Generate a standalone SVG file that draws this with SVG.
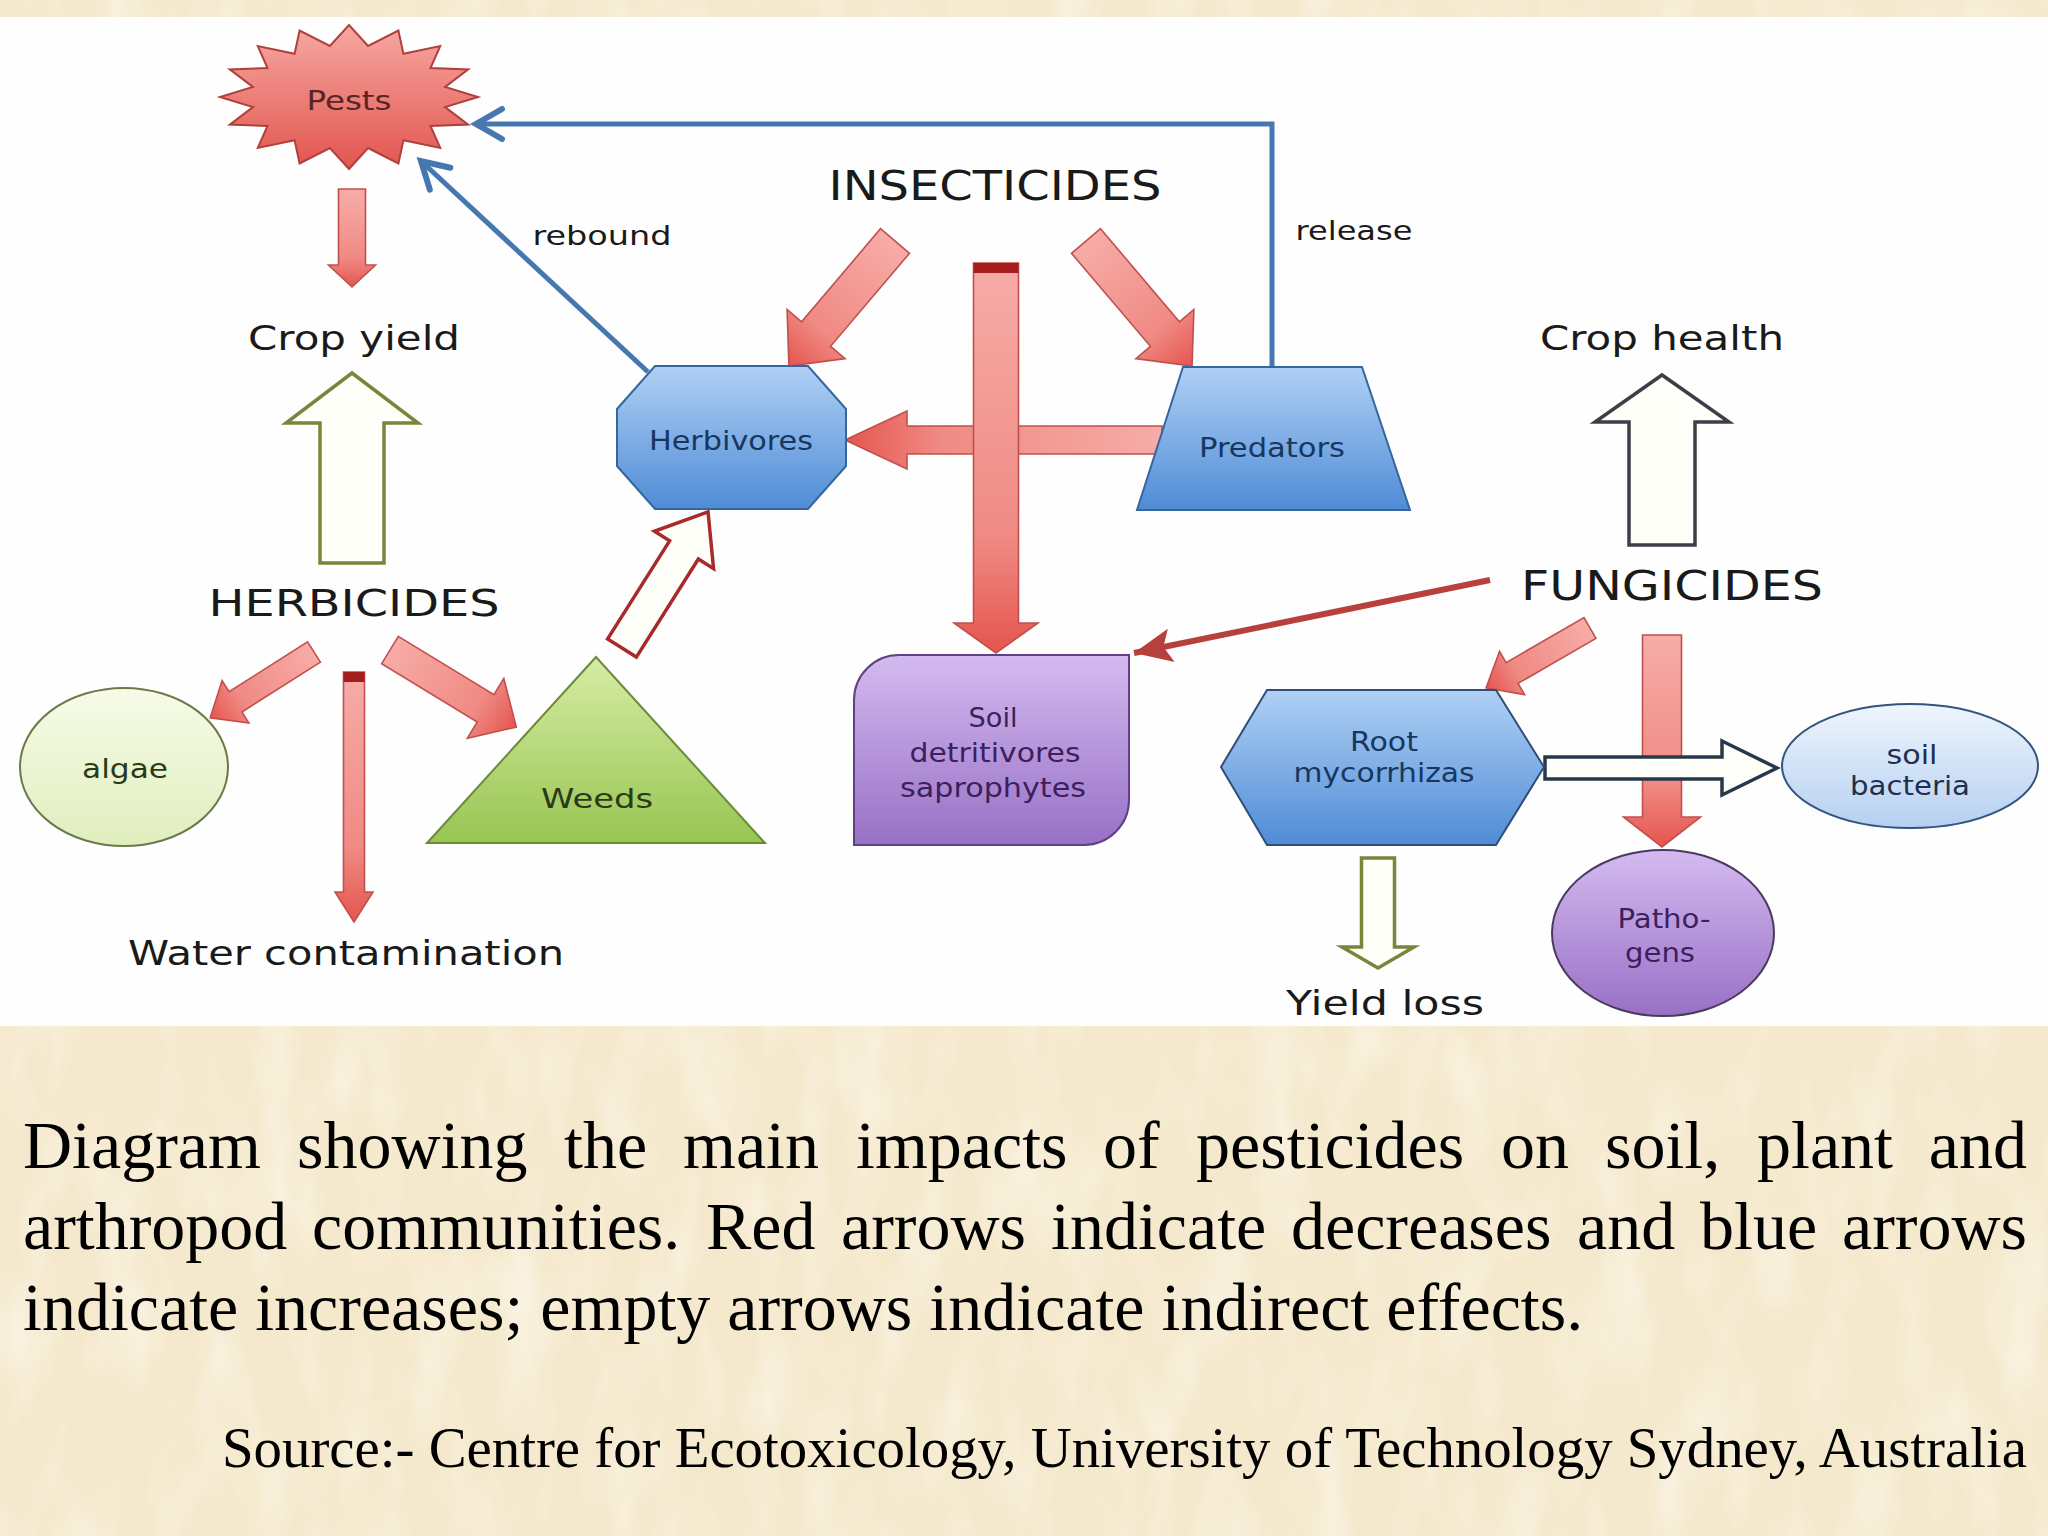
<svg xmlns="http://www.w3.org/2000/svg" width="2048" height="1536" viewBox="0 0 2048 1536">
<defs>
<style>
.lbl{font-family:"DejaVu Sans","Liberation Sans",sans-serif;text-anchor:middle;fill:#1a1a1a}
.big{font-size:34px}
.caps{font-size:40px}
.small{font-size:27px}
.node{font-size:26px}
.cap{font-family:"Liberation Serif","Times New Roman",serif;font-size:68px;fill:#000}
.red{fill:url(#gRed);stroke:#c0504d;stroke-width:1.6}
.hollow{fill:#fffffa;stroke-width:3.5;stroke-linejoin:miter}
.blue{fill:none;stroke:#4677ae;stroke-width:5}
</style>
<filter id="tex" x="0" y="0" width="100%" height="100%">
<feTurbulence type="fractalNoise" baseFrequency="0.02 0.008" numOctaves="3" seed="5"/>
<feColorMatrix type="matrix" values="0 0 0 0 1  0 0 0 0 0.985  0 0 0 0 0.94  0 0 0 1.0 -0.45"/>
</filter>
<linearGradient id="gRed" x1="0" y1="0" x2="1" y2="0">
<stop offset="0" stop-color="#f7aca7"/><stop offset="0.7" stop-color="#f08a84"/><stop offset="1" stop-color="#e5554f"/>
</linearGradient>
<linearGradient id="gStar" x1="0" y1="0" x2="0" y2="1">
<stop offset="0" stop-color="#f7a8a2"/><stop offset="1" stop-color="#e2554f"/>
</linearGradient>
<linearGradient id="gBlue" x1="0" y1="0" x2="0" y2="1">
<stop offset="0" stop-color="#b0d0f5"/><stop offset="1" stop-color="#4f8cd6"/>
</linearGradient>
<linearGradient id="gPurple" x1="0" y1="0" x2="0" y2="1">
<stop offset="0" stop-color="#d4baf0"/><stop offset="1" stop-color="#9870c6"/>
</linearGradient>
<linearGradient id="gGreen" x1="0" y1="0" x2="0" y2="1">
<stop offset="0" stop-color="#d6eca4"/><stop offset="1" stop-color="#98c552"/>
</linearGradient>
<linearGradient id="gAlgae" x1="0" y1="0" x2="0" y2="1">
<stop offset="0" stop-color="#f7fbe8"/><stop offset="1" stop-color="#e0eebd"/>
</linearGradient>
<linearGradient id="gBact" x1="0" y1="0" x2="0" y2="1">
<stop offset="0" stop-color="#eef5fd"/><stop offset="1" stop-color="#b6d0f2"/>
</linearGradient>
<marker id="vHead" markerUnits="userSpaceOnUse" markerWidth="40" markerHeight="40" viewBox="0 0 40 40" refX="32" refY="20" orient="auto">
<path d="M6,5 L32,20 L6,35" fill="none" stroke="#4677ae" stroke-width="6" stroke-linecap="round" stroke-linejoin="miter"/>
</marker>
<marker id="rHead" markerUnits="userSpaceOnUse" markerWidth="44" markerHeight="40" viewBox="0 0 44 40" refX="40" refY="20" orient="auto">
<path d="M2,3 L40,20 L2,37 L10,20 Z" fill="#b8403c"/>
</marker>
</defs>

<rect x="0" y="0" width="2048" height="1536" fill="#f5e9cd"/>
<rect x="0" y="0" width="2048" height="1536" filter="url(#tex)"/>
<rect x="0" y="17" width="2048" height="1009" fill="#fefefe"/>

<g id="connectors">
<path class="red" transform="translate(352,189) rotate(90)" d="M0,-13.5 H76 V-23.5 L98,0 L76,23.5 V13.5 H0 Z"/>
<path class="red" transform="translate(895,241) rotate(130.3)" d="M0,-19 H122 V-38 L164,0 L122,38 V19 H0 Z"/>
<path class="red" transform="translate(1086,241) rotate(49.7)" d="M0,-19 H122 V-38 L164,0 L122,38 V19 H0 Z"/>
<path class="red" transform="translate(1162,440) rotate(180)" d="M0,-14 H255 V-29 L317,0 L255,29 V14 H0 Z"/>
<g transform="translate(996,263) rotate(90)">
<path class="red" d="M0,-22.5 H360 V-42 L390,0 L360,42 V22.5 H0 Z"/>
<rect x="0" y="-22.5" width="10" height="45" fill="#a41c1c"/>
</g>
<path class="red" transform="translate(314,652) rotate(147.6)" d="M0,-12 H93 V-25 L123,0 L93,25 V12 H0 Z"/>
<g transform="translate(354,672) rotate(90)">
<path class="red" d="M0,-10.5 H220 V-19 L250,0 L220,19 V10.5 H0 Z"/>
<rect x="0" y="-10.5" width="10" height="21" fill="#a41c1c"/>
</g>
<path class="red" transform="translate(390,650) rotate(31.4)" d="M0,-16 H112 V-35 L148,0 L112,35 V16 H0 Z"/>
<path class="red" transform="translate(1590,628) rotate(150)" d="M0,-12 H90 V-25 L120,0 L90,25 V12 H0 Z"/>
<path class="red" transform="translate(1662,635) rotate(90)" d="M0,-19.5 H182 V-38.5 L212,0 L182,38.5 V19.5 H0 Z"/>
<line x1="1490" y1="580" x2="1134" y2="653" stroke="#b8403c" stroke-width="6" marker-end="url(#rHead)"/>

<polyline class="blue" points="1272,367 1272,124 476,124" marker-end="url(#vHead)"/>
<line class="blue" x1="648" y1="372" x2="421" y2="161" marker-end="url(#vHead)"/>

<path class="hollow" stroke="#76863a" transform="translate(352,563) rotate(-90)" d="M0,-32 H140 V-66 L190,0 L140,66 V32 H0 Z"/>
<path class="hollow" stroke="#a82a2a" transform="translate(622,648) rotate(-57.7)" d="M0,-17 H116 V-35 L161,0 L116,35 V17 H0 Z"/>
<path class="hollow" stroke="#76863a" transform="translate(1378,858) rotate(90)" d="M0,-16.5 H89 V-36 L110,0 L89,36 V16.5 H0 Z"/>
<path class="hollow" stroke="#27384a" transform="translate(1545,768)" d="M0,-11 H177 V-27 L232,0 L177,27 V11 H0 Z"/>
<path class="hollow" stroke="#3a3f48" transform="translate(1662,545) rotate(-90)" d="M0,-33 H123 V-67 L170,0 L123,67 V33 H0 Z"/>
</g>

<g id="pests">
<polygon fill="url(#gStar)" stroke="#b0403c" stroke-width="2" points="478,97 445.1,107.1 468.2,124.6 430.5,125.9 440.2,147.9 403.4,140.2 398.4,163.5 368.1,148 349,169 329.9,148 299.6,163.5 294.6,140.2 257.8,147.9 267.5,125.9 229.8,124.6 252.9,107.1 220,97 252.9,86.9 229.8,69.4 267.5,68.1 257.8,46.1 294.6,53.8 299.6,30.5 329.9,46 349,25 368.1,46 398.4,30.5 403.4,53.8 440.2,46.1 430.5,68.1 468.2,69.4 445.1,86.9"/>
<text class="lbl small" x="349" y="110" style="fill:#5a2424" textLength="85" lengthAdjust="spacingAndGlyphs">Pests</text>
</g>

<g id="crop-yield"><text class="lbl big" x="354" y="350" textLength="212" lengthAdjust="spacingAndGlyphs">Crop yield</text></g>
<g id="rebound-label"><text class="lbl small" x="602" y="245" textLength="139" lengthAdjust="spacingAndGlyphs">rebound</text></g>
<g id="release-label"><text class="lbl small" x="1354" y="240" textLength="117" lengthAdjust="spacingAndGlyphs">release</text></g>
<g id="insecticides"><text class="lbl caps" x="995" y="200" textLength="333" lengthAdjust="spacingAndGlyphs">INSECTICIDES</text></g>
<g id="herbicides"><text class="lbl" style="font-size:38px" x="354" y="616" textLength="291" lengthAdjust="spacingAndGlyphs">HERBICIDES</text></g>
<g id="fungicides"><text class="lbl caps" x="1672" y="600" textLength="302" lengthAdjust="spacingAndGlyphs">FUNGICIDES</text></g>
<g id="crop-health"><text class="lbl big" x="1662" y="350" textLength="244" lengthAdjust="spacingAndGlyphs">Crop health</text></g>
<g id="water-contamination"><text class="lbl big" x="346" y="965" textLength="436" lengthAdjust="spacingAndGlyphs">Water contamination</text></g>
<g id="yield-loss"><text class="lbl big" x="1385" y="1015" textLength="198" lengthAdjust="spacingAndGlyphs">Yield loss</text></g>

<g id="herbivores">
<polygon fill="url(#gBlue)" stroke="#35669e" stroke-width="2" points="655,366 808,366 846,409 846,466 808,509 655,509 617,466 617,409"/>
<text class="lbl node" style="fill:#17375e" x="731" y="450" textLength="164" lengthAdjust="spacingAndGlyphs">Herbivores</text>
</g>

<g id="predators">
<polygon fill="url(#gBlue)" stroke="#35669e" stroke-width="2" points="1183,367 1362,367 1410,510 1137,510"/>
<text class="lbl node" style="fill:#17375e" x="1272" y="457" textLength="146" lengthAdjust="spacingAndGlyphs">Predators</text>
</g>

<g id="soil-detritivores">
<path fill="url(#gPurple)" stroke="#5e4282" stroke-width="2" d="M854,700 A45,45 0 0 1 899,655 H1129 V800 A45,45 0 0 1 1084,845 H854 Z"/>
<text class="lbl node" style="fill:#3c1f5c" x="993" y="727" textLength="49" lengthAdjust="spacingAndGlyphs">Soil</text>
<text class="lbl node" style="fill:#3c1f5c" x="995" y="762" textLength="171" lengthAdjust="spacingAndGlyphs">detritivores</text>
<text class="lbl node" style="fill:#3c1f5c" x="993" y="797" textLength="186" lengthAdjust="spacingAndGlyphs">saprophytes</text>
</g>

<g id="root-mycorrhizas">
<polygon fill="url(#gBlue)" stroke="#2f4f78" stroke-width="2" points="1221,767 1267,690 1496,690 1544,767 1496,845 1267,845"/>
<text class="lbl node" style="fill:#17375e" x="1384" y="751" textLength="68" lengthAdjust="spacingAndGlyphs">Root</text>
<text class="lbl node" style="fill:#17375e" x="1384" y="782" textLength="181" lengthAdjust="spacingAndGlyphs">mycorrhizas</text>
</g>

<g id="soil-bacteria">
<ellipse cx="1910" cy="766" rx="128" ry="62" fill="url(#gBact)" stroke="#34557c" stroke-width="2"/>
<text class="lbl node" style="fill:#1f2f4f" x="1912" y="764" textLength="51" lengthAdjust="spacingAndGlyphs">soil</text>
<text class="lbl node" style="fill:#1f2f4f" x="1910" y="795" textLength="120" lengthAdjust="spacingAndGlyphs">bacteria</text>
</g>

<g id="pathogens">
<ellipse cx="1663" cy="933" rx="111" ry="83" fill="url(#gPurple)" stroke="#4a3a5e" stroke-width="2"/>
<text class="lbl node" style="fill:#3c1f5c" x="1664" y="928" textLength="93" lengthAdjust="spacingAndGlyphs">Patho-</text>
<text class="lbl node" style="fill:#3c1f5c" x="1660" y="962" textLength="70" lengthAdjust="spacingAndGlyphs">gens</text>
</g>

<g id="algae">
<ellipse cx="124" cy="767" rx="104" ry="79" fill="url(#gAlgae)" stroke="#6a7a4a" stroke-width="2"/>
<text class="lbl node" style="fill:#2a3a18;font-size:27px" x="125" y="778" textLength="86" lengthAdjust="spacingAndGlyphs">algae</text>
</g>

<g id="weeds">
<polygon fill="url(#gGreen)" stroke="#6a8a3a" stroke-width="2" points="596,657 427,843 765,843"/>
<text class="lbl node" style="fill:#2a3a18;font-size:27px" x="597" y="808" textLength="112" lengthAdjust="spacingAndGlyphs">Weeds</text>
</g>

<g id="caption">
<text class="cap" y="1168"><tspan x="23">Diagram</tspan><tspan x="297">showing</tspan><tspan x="564">the</tspan><tspan x="683">main</tspan><tspan x="856">impacts</tspan><tspan x="1103">of</tspan><tspan x="1196">pesticides</tspan><tspan x="1501">on</tspan><tspan x="1605">soil,</tspan><tspan x="1757">plant</tspan><tspan x="2027" text-anchor="end">and</tspan></text>
<text class="cap" y="1249"><tspan x="23">arthropod</tspan><tspan x="312">communities.</tspan><tspan x="706">Red</tspan><tspan x="841">arrows</tspan><tspan x="1051">indicate</tspan><tspan x="1291">decreases</tspan><tspan x="1577">and</tspan><tspan x="1700">blue</tspan><tspan x="2027" text-anchor="end">arrows</tspan></text>
<text class="cap" x="23" y="1330">indicate increases; empty arrows indicate indirect effects.</text>
<text class="cap" style="font-size:57px" x="222" y="1467" textLength="1805" lengthAdjust="spacingAndGlyphs">Source:- Centre for Ecotoxicology, University of Technology Sydney, Australia</text>
</g>
</svg>
